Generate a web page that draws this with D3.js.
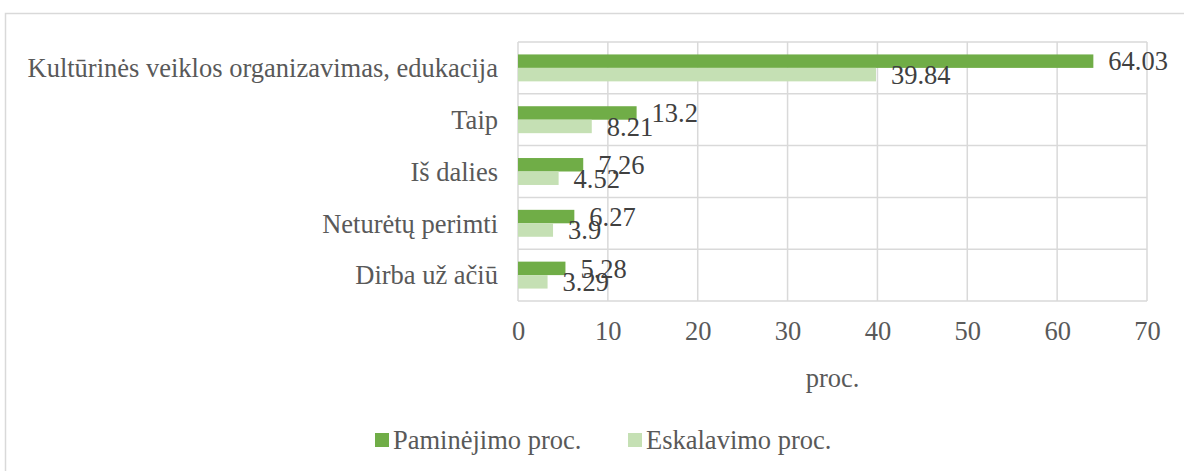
<!DOCTYPE html>
<html>
<head>
<meta charset="utf-8">
<script src="https://cdn.jsdelivr.net/npm/d3@7"></script>
<style>
  body { margin: 0; background: #fff; }
</style>
</head>
<body>
<svg id="chart" width="1184" height="471"></svg>
<script>
// ---------- DATA ----------
const categories = [
  'Kultūrinės veiklos organizavimas, edukacija',
  'Taip',
  'Iš dalies',
  'Neturėtų perimti',
  'Dirba už ačiū',
];
const seriesNames = ['Paminėjimo proc.', 'Eskalavimo proc.'];
const paminejimo = [64.03, 13.2, 7.26, 6.27, 5.28];
const eskalavimo = [39.84, 8.21, 4.52, 3.9, 3.29];
const xTicks = [0, 10, 20, 30, 40, 50, 60, 70];
const axisTitle = 'proc.';

const colors = ['#70AD47', '#C5E0B4'];
const series = [paminejimo, eskalavimo];
const FONT = "'Liberation Serif', 'DejaVu Serif', 'Times New Roman', serif";

// ---------- CHART ----------
const svg = d3.select('#chart')
  .attr('font-family', FONT)
  .style('font-family', FONT);
const margin = { top: 42, left: 518, right: 37 };
const plotW = 1184 - margin.left - margin.right;
const plotH = 259;
const fs = 26.5;

// outer frame (cut off on right/bottom like the original)
svg.append('rect')
  .attr('x', 5.5).attr('y', 13.5)
  .attr('width', 1200).attr('height', 500)
  .attr('fill', 'none').attr('stroke', '#d9d9d9').attr('stroke-width', 1.5);

const g = svg.append('g').attr('transform', `translate(${margin.left},${margin.top})`);

const x = d3.scaleLinear().domain([0, 70]).range([0, plotW]);
const y = d3.scaleBand().domain(categories).range([0, plotH]);
const barH = y.bandwidth() * 0.26;

// vertical gridlines
g.selectAll('line.vgrid')
  .data(xTicks)
  .join('line')
  .attr('class', 'vgrid')
  .attr('x1', (d) => x(d)).attr('x2', (d) => x(d))
  .attr('y1', 0).attr('y2', plotH)
  .attr('stroke', '#d9d9d9').attr('stroke-width', 1.5);

// horizontal category lines
g.selectAll('line.hgrid')
  .data(categories.concat(['end']))
  .join('line')
  .attr('class', 'hgrid')
  .attr('x1', 0).attr('x2', plotW)
  .attr('y1', (d, i) => i * y.step()).attr('y2', (d, i) => i * y.step())
  .attr('stroke', '#d9d9d9').attr('stroke-width', 1.5);

// bars + labels
series.forEach((vals, si) => {
  const yOff = (d, i) => y(categories[i]) + y.bandwidth() / 2 - barH + si * barH;
  g.selectAll(`rect.s${si}`)
    .data(vals)
    .join('rect')
    .attr('class', `s${si}`)
    .attr('x', x(0))
    .attr('y', yOff)
    .attr('width', (d) => x(d) - x(0))
    .attr('height', barH)
    .attr('fill', colors[si]);

  g.selectAll(`text.l${si}`)
    .data(vals)
    .join('text')
    .attr('class', `l${si}`)
    .attr('x', (d) => x(d) + 15)
    .attr('y', (d, i) => yOff(d, i) + barH / 2)
    .attr('dy', '0.35em')
    .attr('font-family', FONT)
    .attr('font-size', fs)
    .attr('fill', '#404040')
    .text((d) => d);
});

// category labels
g.selectAll('text.cat')
  .data(categories)
  .join('text')
  .attr('class', 'cat')
  .attr('x', -20)
  .attr('y', (d) => y(d) + y.bandwidth() / 2)
  .attr('dy', '0.35em')
  .attr('text-anchor', 'end')
  .attr('font-family', FONT)
  .attr('font-size', fs)
  .attr('fill', '#595959')
  .text((d) => d);

// x axis tick labels
const xAxis = g.append('g')
  .attr('transform', `translate(0,${plotH})`)
  .call(d3.axisBottom(x).tickValues(xTicks).tickSize(0).tickPadding(20));
xAxis.attr('font-family', FONT);
xAxis.select('.domain').remove();
xAxis.selectAll('text')
  .attr('font-size', fs)
  .attr('font-family', FONT)
  .attr('fill', '#595959');

// axis title
g.append('text')
  .attr('x', plotW / 2)
  .attr('y', plotH + 77)
  .attr('dy', '0.35em')
  .attr('text-anchor', 'middle')
  .attr('font-family', FONT)
  .attr('font-size', fs)
  .attr('fill', '#595959')
  .text(axisTitle);

// legend
const legendX = [375, 628];
const legend = svg.selectAll('g.legend')
  .data(seriesNames)
  .join('g')
  .attr('class', 'legend')
  .attr('transform', (d, i) => `translate(${legendX[i]},440)`);
legend.append('rect')
  .attr('x', 0).attr('y', -7)
  .attr('width', 14).attr('height', 14)
  .attr('fill', (d, i) => colors[i]);
legend.append('text')
  .attr('x', 18)
  .attr('dy', '0.35em')
  .attr('font-family', FONT)
  .attr('font-size', fs)
  .attr('fill', '#595959')
  .text((d) => d);
</script>
</body>
</html>
